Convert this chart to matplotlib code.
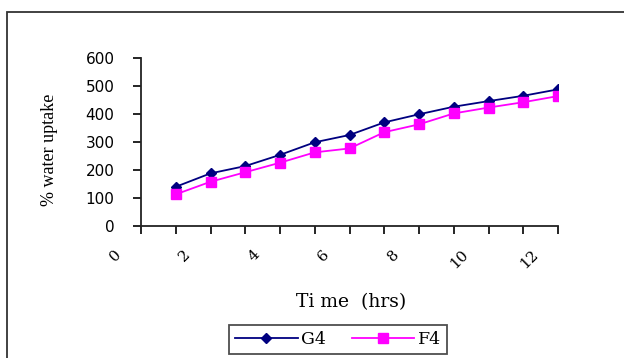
import matplotlib.pyplot as plt
import matplotlib.transforms as mtransforms
from matplotlib.patches import Rectangle

# time points (hrs) and % water uptake
time_hrs = [1, 2, 3, 4, 5, 6, 7, 8, 9, 10, 11, 12]
g4 = [140, 188, 214, 254, 299, 325, 370, 399, 426, 446, 465, 488]
f4 = [113, 158, 192, 226, 263, 277, 335, 363, 402, 423, 442, 464]
y_ticks = [0, 100, 200, 300, 400, 500, 600]
x_labels = [0, 2, 4, 6, 8, 10, 12]

fig = plt.figure(figsize=(6.24, 3.58), dpi=100)
fig.patch.set_facecolor('white')

# outer chart frame (runs off the right/bottom edge in the original)
fig.patches.append(Rectangle((7/624, -0.1), 1.2, 1 - 12/358 + 0.1,
                             transform=fig.transFigure, fill=False,
                             edgecolor='#333333', linewidth=1.3))

ax = fig.add_axes([141/624, 1 - 226/358, (558 - 141)/624, (226 - 58)/358])
ax.plot(time_hrs, g4, '-', color='#000080', marker='D', markersize=5.5, linewidth=1.3, label='G4')
ax.plot(time_hrs, f4, '-', color='#FF00FF', marker='s', markersize=6.5, linewidth=1.3, label='F4')

ax.set_xlim(0, 12)
ax.set_ylim(0, 600)
ax.set_xticks(range(0, 13))
ax.set_xticklabels([str(v) if v in x_labels else '' for v in range(0, 13)],
                   rotation=45, ha='right', va='center', fontsize=11,
                   family='DejaVu Serif', rotation_mode='anchor')
ax.set_yticks(y_ticks)
ax.set_yticklabels([str(v) for v in y_ticks], fontsize=11, family='DejaVu Sans')
ax.tick_params(axis='x', length=6, width=1.2, pad=13)
ax.tick_params(axis='y', length=6, width=1.2, pad=13)

# shift rotated x labels left like the original
shift = mtransforms.ScaledTranslation(-0.22, 0, fig.dpi_scale_trans)
for lbl in ax.get_xticklabels():
    lbl.set_transform(lbl.get_transform() + shift)

for s in ['top', 'right']:
    ax.spines[s].set_visible(False)
for s in ['left', 'bottom']:
    ax.spines[s].set_color('#222222')
    ax.spines[s].set_linewidth(1.3)

fig.text(351/624, 1 - 302/358, 'Ti me  (hrs)', ha='center', va='center',
         fontsize=13.5, family='DejaVu Serif')
fig.text(50/624, 1 - 150/358, '% water uptake', ha='center', va='center',
         rotation=90, fontsize=13, family='Liberation Serif')

leg = fig.legend(loc='upper center', bbox_to_anchor=(338/624, 1 - 325/358), ncol=2,
                 frameon=True, fancybox=False, edgecolor='#222222',
                 prop={'family': 'DejaVu Serif', 'size': 12.5}, handlelength=3.6,
                 handletextpad=0.2, columnspacing=1.5, borderpad=0.35,
                 borderaxespad=0)
leg.get_frame().set_linewidth(1.3)

fig.savefig('out.png', dpi=100)
